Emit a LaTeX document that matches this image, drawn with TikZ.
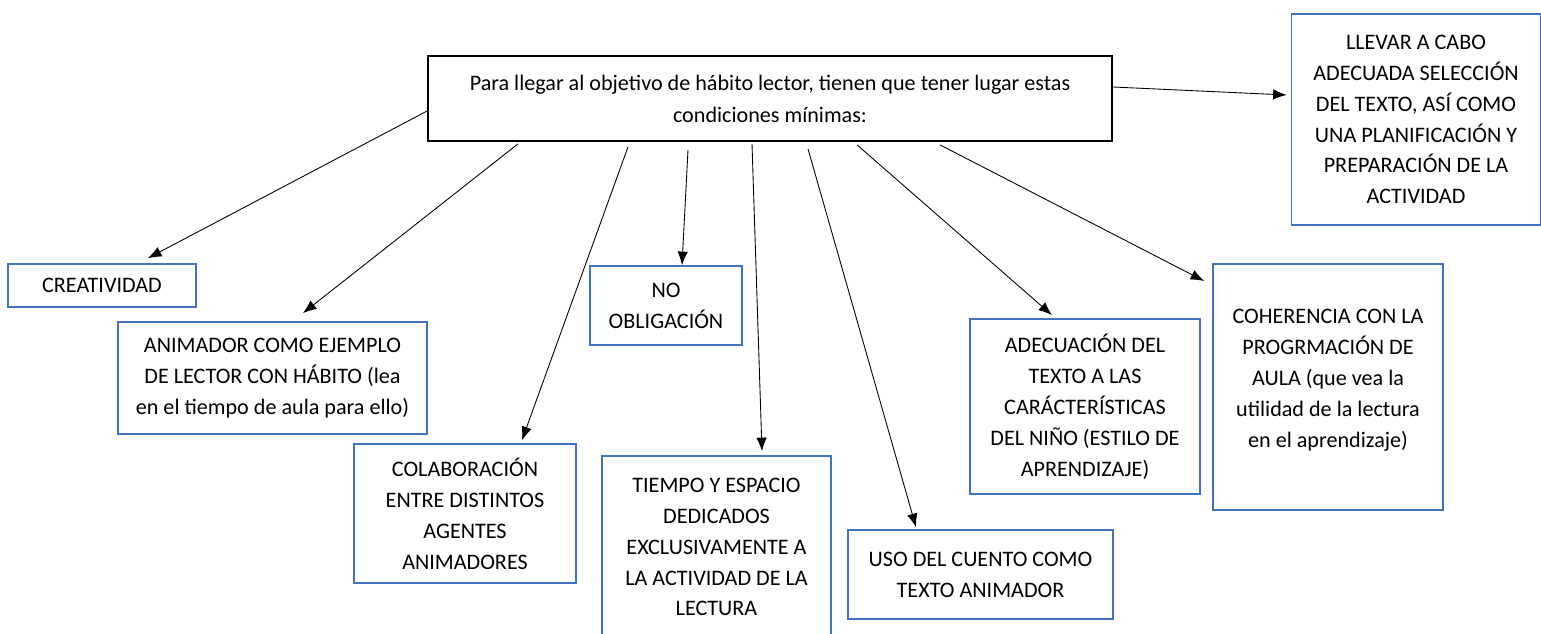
\documentclass[tikz,border=0pt]{standalone}
\usepackage{fontspec}
\setmainfont{Carlito}
\usepackage{tikz}
\usetikzlibrary{arrows.meta, calc}
\definecolor{boxblue}{HTML}{4472C4}
\newcommand{\mapArrow}{{Latex[length=2.7mm, width=2.1mm]}}

\begin{document}
\begin{tikzpicture}[x=0.02cm, y=-0.02cm,
	font=\fontsize{12.6}{17.6}\selectfont,
	box/.style 2 args={draw=boxblue, line width=1pt, align=center, inner sep=0pt,
		minimum width=#1*0.02cm, minimum height=#2*0.02cm},
	link/.style={-\mapArrow, line width=0.5pt}]
	\useasboundingbox (0,0) rectangle (1541,634);
	
	\node[box={684}{85}, draw=black, font=\fontsize{12.6}{18.2}\selectfont] (top) at (770,98.5)
		{Para llegar al objetivo de hábito lector, tienen que tener lugar estas\\condiciones mínimas:};
	\node[box={249}{211}] (llevar) at (1416,119.5)
		{LLEVAR A CABO\\ADECUADA SELECCIÓN\\DEL TEXTO, ASÍ COMO\\UNA PLANIFICACIÓN Y\\PREPARACIÓN DE LA\\ACTIVIDAD};
	\node[box={188}{43}] (crea) at (102,285.5) {CREATIVIDAD};
	\node[box={309}{112}] (anim) at (272.5,378)
		{ANIMADOR COMO EJEMPLO\\DE LECTOR CON HÁBITO (lea\\en el tiempo de aula para ello)};
	\node[box={222}{139}] (colab) at (465,513.5)
		{COLABORACIÓN\\ENTRE DISTINTOS\\AGENTES\\ANIMADORES};
	\node[box={152}{79}] (noob) at (666,305.5) {NO\\OBLIGACIÓN};
	\node[box={229}{182}] (tiempo) at (716.5,547)
		{TIEMPO Y ESPACIO\\DEDICADOS\\EXCLUSIVAMENTE A\\LA ACTIVIDAD DE LA\\LECTURA};
	\node[box={265}{89}] (uso) at (980.5,574.5) {USO DEL CUENTO COMO\\TEXTO ANIMADOR};
	\node[box={230}{175}] (adec) at (1085,406.5)
		{ADECUACIÓN DEL\\TEXTO A LAS\\CARÁCTERÍSTICAS\\DEL NIÑO (ESTILO DE\\APRENDIZAJE)};
	\node[box={230}{246}] (coher) at (1328,387)
		{COHERENCIA CON LA\\PROGRMACIÓN DE\\AULA (que vea la\\utilidad de la lectura\\en el aprendizaje)\\[-0.6em]};
	
	% connectors
	\draw[link] (top.west |- 0,111) -- ($(148,0 |- crea.north)+(0,-5)$);
	\draw[link] ($(518,0 |- top.south)+(0,2)$) -- ($(303,0 |- anim.north)+(0,-8)$);
	\draw[link] ($(628,0 |- top.south)+(0,5)$) -- ($(522,0 |- colab.north)+(0,-3)$);
	\draw[link] ($(688,0 |- top.south)+(0,8)$) -- ($(682,0 |- noob.north)+(0,0)$);
	\draw[link] ($(752,0 |- top.south)+(0,2)$) -- ($(762,0 |- tiempo.north)+(0,-4)$);
	\draw[link] ($(808,0 |- top.south)+(0,7)$) -- ($(916,0 |- uso.north)+(0,-2)$);
	\draw[link] ($(857,0 |- top.south)+(0,3)$) -- ($(1052,0 |- adec.north)+(0,-3)$);
	\draw[link] ($(940,0 |- top.south)+(0,3)$) -- ($(coher.west |- 0,281)+(-8,0)$);
	\draw[link] (top.east |- 0,87) -- ($(llevar.west |- 0,95)+(-4,0)$);
\end{tikzpicture}
\end{document}
